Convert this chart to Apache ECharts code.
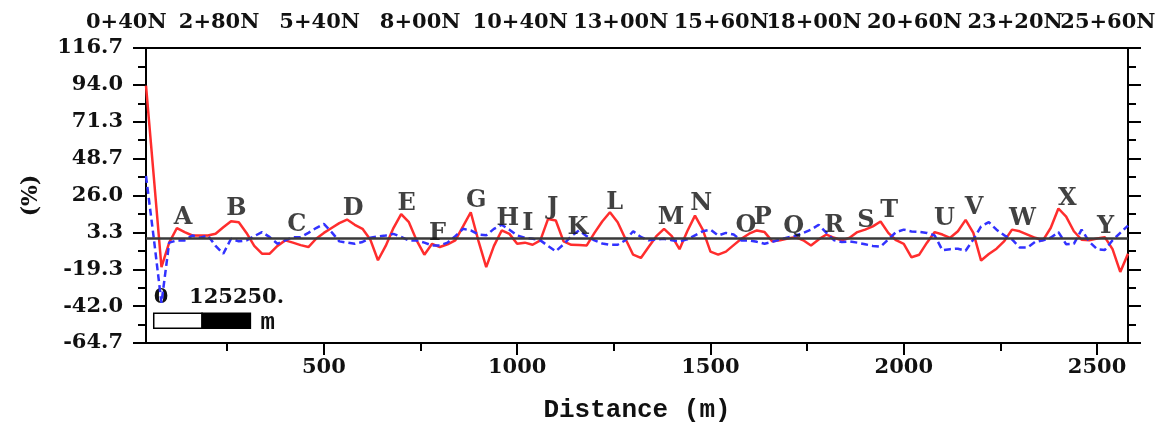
<!DOCTYPE html>
<html><head><meta charset="utf-8">
<script src="https://cdn.jsdelivr.net/npm/echarts@6/dist/echarts.min.js"></script>
<style>html,body{margin:0;padding:0;background:#fff}#c{width:1165px;height:428px}</style>
</head><body><div id="c"></div>
<script>
// ---- data ----
const distance = [
  40,60,80,100,120,140,160,180,200,220,
  240,260,280,300,320,340,360,380,400,420,
  440,460,480,500,520,540,560,580,600,620,
  640,660,680,700,720,740,760,780,800,820,
  840,860,880,900,920,940,960,980,1000,1020,
  1040,1060,1080,1100,1120,1140,1160,1180,1200,1220,
  1240,1260,1280,1300,1320,1340,1360,1380,1400,1420,
  1440,1460,1480,1500,1520,1540,1560,1580,1600,1620,
  1640,1660,1680,1700,1720,1740,1760,1780,1800,1820,
  1840,1860,1880,1900,1920,1940,1960,1980,2000,2020,
  2040,2060,2080,2100,2120,2140,2160,2180,2200,2220,
  2240,2260,2280,2300,2320,2340,2360,2380,2400,2420,
  2440,2460,2480,2500,2520,2540,2560,2580
];
const redPct = [
  93.5,38,-18,-3,6,3.5,1.4,1.4,1.4,2.5,
  6.5,10.2,9.6,3,-5,-9.8,-9.8,-5,-1.6,-3,
  -4.5,-5.7,-0.6,3,6,9,11.2,8,5.5,-1,
  -13.8,-5,6,14.6,9.6,-1.6,-10.4,-3.7,-5.7,-4,
  -1.6,7,15.7,-2,-18,-5,4.5,2.4,-3.7,-3,
  -4.3,-1.6,11.6,10.6,-2.2,-4.3,-4.5,-4.7,3,10,
  15.7,9.6,-0.6,-10.4,-12.4,-5.7,1,5.5,1,-7,
  4,13.6,5,-8.5,-10.4,-8.5,-4.5,-0.6,2.5,4.5,
  3.5,-2.2,-1.6,-0.5,0.4,-1.5,-4.7,-1,2,0,
  -1.6,0,3.5,5,7,10,3,-1.5,-3.7,-12,
  -10.4,-3,3.5,2,0,4,11,3,-14,-10,
  -6.7,-2,5,4,2,0,-1.6,6,18,13,
  4,-1.2,-1.5,-0.5,0.4,-7,-21,-9.8
];
const bluePct = [
  38,0,-40,-3,-1.6,-1.6,1.4,0,1.4,-5,
  -9.8,-0.6,-2.2,-1.6,1,3.5,0.4,-3.7,-1.6,0.4,
  0.4,3,6,8.5,3.5,-2.2,-3,-3.7,-2.6,0,
  0.8,1.4,2.4,0.5,-1.6,-1.6,-3,-4.7,-4.7,-3,
  1,5.5,4.5,2,1.5,5.5,8,5,1.5,0,
  -0.6,-1.6,-5,-8.3,-4,1,4.5,1,-1.6,-3.5,
  -4.3,-4.3,-1.5,4,0.5,-1.6,-1,-0.6,-1.5,-2.2,
  -1,1.5,4,5,1.4,3,2,-1.6,-1.6,-2.5,
  -3.7,-2.5,-1,0.2,1.2,3,5,8,3,-1.5,
  -2.6,-2.2,-3,-4,-5,-5.5,-1,3.5,5,3.9,
  3.6,3,1.4,-7.7,-7,-6.7,-8,-1,7,9.6,
  5,1.5,-1,-6,-6,-2.5,-1.6,0,3.5,-4,
  -3.7,5,-2.5,-7,-7.5,-1.5,3,7.5
];
const yTickLabels = ['-64.7','-42.0','-19.3','3.3','26.0','48.7','71.3','94.0','116.7'];
const xTickValues = [500,1000,1500,2000,2500];
const xMinorTickValues = [250,750,1250,1750,2250];
const stationNames = ['0+40N','2+80N','5+40N','8+00N','10+40N','13+00N','15+60N','18+00N','20+60N','23+20N','25+60N'];
const stationDist = [40,280,540,800,1040,1300,1560,1800,2060,2320,2560];
const anomalyNames = ['A','B','C','D','E','F','G','H','I','J','K','L','M','N','O','P','Q','R','S','T','U','V','W','X','Y'];
const anomalyDist = [136,274,430,576,714,794,894,976,1028,1092,1157,1252,1398,1476,1592,1635,1715,1820,1902,1962,2105,2182,2307,2423,2522];
const anomalyPct = [12.2,17.7,7.9,17.7,20.8,2.4,22.8,11.6,8.5,18.7,5.9,21.8,12.6,20.8,7.5,12.6,6.5,7.5,10.6,16.7,11.6,18.7,11.6,23.8,6.5];
const scaleBarTicks = [0,125,250];
const scaleBarLabels = ['0','125250.'];
const scaleBarUnit = 'm';

// ---- layout / style ----
const FONT = "'DejaVu Serif', serif";
const Y_MIN = -64.7, Y_MAX = 116.7, Y_STEP = 22.675;
const X_MIN = 40, X_MAX = 2580;
const SB_START = 60, SB_TOP = -46.4, SB_BOTTOM = -55.6;

const chart = echarts.init(document.getElementById('c'), null, {renderer:'canvas'});
const axisLineStyle = {color:'#000', width:2};
const tickStyle = {color:'#000', width:2};
const labelStyle = {color:'#111', fontFamily:FONT, fontSize:21, fontWeight:'bold'};

const redData = distance.map((d,i)=>[d, redPct[i]]);
const blueData = distance.map((d,i)=>[d, bluePct[i]]);
const letterData = anomalyNames.map((n,i)=>({name:n, value:[anomalyDist[i], anomalyPct[i]]}));

const option = {
  animation:false,
  backgroundColor:'#fff',
  grid:{left:146, right:37, top:48, bottom:84, containLabel:false},
  xAxis:[
    {type:'value', position:'bottom', min:X_MIN, max:X_MAX,
     axisLine:{show:true, onZero:false, lineStyle:axisLineStyle},
     axisTick:{show:true, inside:false, length:12, lineStyle:tickStyle, customValues:xTickValues},
     axisLabel:Object.assign({show:true, customValues:xTickValues, margin:14, formatter:v=>String(v)}, labelStyle),
     splitLine:{show:false},
     name:'Distance (m)', nameLocation:'middle', nameGap:54,
     nameTextStyle:{fontFamily:"'Liberation Mono', monospace", fontWeight:'bold', fontSize:26, color:'#111'}},
    {type:'value', position:'bottom', min:X_MIN, max:X_MAX,
     axisLine:{show:false, onZero:false},
     axisTick:{show:true, inside:false, length:8, lineStyle:tickStyle, customValues:xMinorTickValues},
     axisLabel:{show:false}, splitLine:{show:false}},
    {type:'value', position:'top', min:X_MIN, max:X_MAX,
     axisLine:{show:true, onZero:false, lineStyle:axisLineStyle},
     axisTick:{show:false}, axisLabel:{show:false}, splitLine:{show:false}}
  ],
  yAxis:[
    {type:'value', position:'left', min:Y_MIN, max:Y_MAX, interval:Y_STEP,
     axisLine:{show:true, onZero:false, lineStyle:axisLineStyle},
     axisTick:{show:true, inside:false, length:13, lineStyle:tickStyle},
     minorTick:{show:true, splitNumber:2, length:8, lineStyle:tickStyle},
     axisLabel:Object.assign({formatter:v=>yTickLabels[Math.round((v-Y_MIN)/Y_STEP)], margin:23}, labelStyle),
     splitLine:{show:false}, minorSplitLine:{show:false},
     name:'(%)', nameLocation:'middle', nameGap:104,
     nameTextStyle:{fontFamily:FONT, fontWeight:'bold', fontSize:22, color:'#111'}},
    {type:'value', position:'right', min:Y_MIN, max:Y_MAX, interval:Y_STEP,
     axisLine:{show:true, onZero:false, lineStyle:axisLineStyle},
     axisTick:{show:true, inside:false, length:13, lineStyle:tickStyle},
     minorTick:{show:true, splitNumber:2, length:8, lineStyle:tickStyle},
     axisLabel:{show:false}, splitLine:{show:false}, minorSplitLine:{show:false}}
  ],
  series:[
    {type:'line', name:'red', xAxisIndex:0, yAxisIndex:0, data:redData, symbol:'none', z:2,
     lineStyle:{color:'#ff2d2d', width:2.5}},
    {type:'line', name:'blue', xAxisIndex:0, yAxisIndex:0, data:blueData, symbol:'none', z:3,
     lineStyle:{color:'#3232ff', width:2.5, type:[7,4]},
     markLine:{silent:true, symbol:['none','none'], label:{show:false}, z:5,
       lineStyle:{color:'#3a3a3a', width:2.5, type:'solid'}, data:[{yAxis:0}]}},
    {type:'scatter', name:'anomaly', xAxisIndex:0, yAxisIndex:0, data:letterData, symbolSize:1, z:10,
     itemStyle:{color:'rgba(0,0,0,0)'},
     label:{show:true, position:'inside', formatter:p=>p.name, color:'#111', fontFamily:FONT, fontWeight:'bold', fontSize:24}}
  ]
};
chart.setOption(option);

function px(d, v){ return chart.convertToPixel({gridIndex:0}, [d, v]); }
const graphics = [];
stationNames.forEach((n,i)=>{
  const p = px(stationDist[i], 0);
  graphics.push({type:'text', x:p[0]-60, y:23, silent:true,
    style:{text:n, fill:'#111', font:"bold 21px 'DejaVu Serif', serif", align:'left', verticalAlign:'middle'}});
});
const sb = scaleBarTicks.map(t=>px(SB_START + t, SB_TOP));
const sbBot = px(SB_START, SB_BOTTOM)[1];
const sbTop = sb[0][1];
graphics.push({type:'rect', silent:true, shape:{x:sb[0][0], y:sbTop, width:sb[1][0]-sb[0][0], height:sbBot-sbTop},
  style:{fill:'#fff', stroke:'#000', lineWidth:1.5}});
graphics.push({type:'rect', silent:true, shape:{x:sb[1][0], y:sbTop, width:sb[2][0]-sb[1][0], height:sbBot-sbTop},
  style:{fill:'#000', stroke:'#000', lineWidth:1.5}});
graphics.push({type:'text', silent:true, x:sb[0][0], y:sbTop-16,
  style:{text:scaleBarLabels[0], fill:'#111', font:"bold 21px 'DejaVu Serif', serif", align:'left', verticalAlign:'middle'}});
graphics.push({type:'text', silent:true, x:sb[1][0]-13, y:sbTop-16,
  style:{text:scaleBarLabels[1], fill:'#111', font:"bold 21px 'DejaVu Serif', serif", align:'left', verticalAlign:'middle'}});
graphics.push({type:'text', silent:true, x:sb[2][0]+10, y:(sbTop+sbBot)/2+2,
  style:{text:scaleBarUnit, fill:'#111', font:"bold 24px 'Liberation Mono', monospace", align:'left', verticalAlign:'middle'}});
chart.setOption({graphic:graphics});
</script></body></html>
